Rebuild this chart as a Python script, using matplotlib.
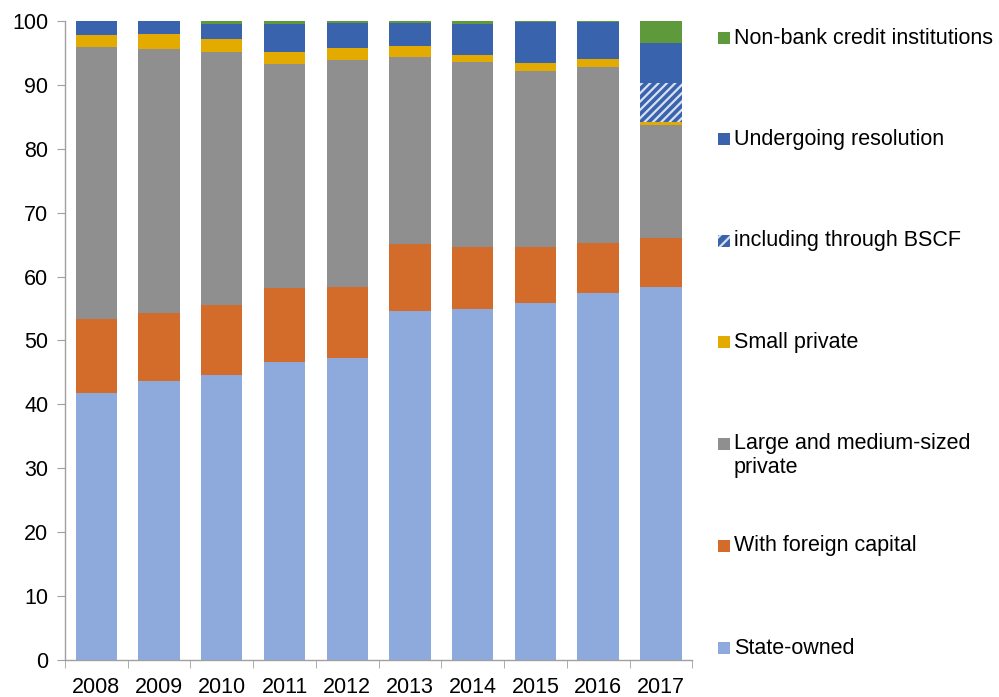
import matplotlib
matplotlib.use("Agg")
import matplotlib.pyplot as plt
from matplotlib.patches import Rectangle
import numpy as np

plt.rcParams['font.family'] = ['Liberation Sans', 'DejaVu Sans']
plt.rcParams['hatch.color'] = '#D8E0F0'
plt.rcParams['hatch.linewidth'] = 1.6

years = ['2008', '2009', '2010', '2011', '2012', '2013', '2014', '2015', '2016', '2017']
state_owned = [41.8, 43.7, 44.6, 46.6, 47.3, 54.6, 54.9, 55.9, 57.4, 58.4]
foreign = [11.6, 10.6, 11.0, 11.6, 11.1, 10.5, 9.7, 8.7, 7.9, 7.7]
large_medium = [42.5, 41.3, 39.5, 35.0, 35.5, 29.3, 29.0, 27.6, 27.5, 17.6]
small_private = [1.9, 2.3, 2.1, 1.9, 1.8, 1.7, 1.1, 1.3, 1.3, 0.5]
bscf = [0, 0, 0, 0, 0, 0, 0, 0, 0, 6.1]
resolution_other = [2.2, 2.1, 2.4, 4.5, 4.0, 3.6, 4.9, 6.3, 5.7, 6.2]
non_bank = [0.0, 0.0, 0.4, 0.4, 0.3, 0.3, 0.4, 0.2, 0.2, 3.5]

labels = ['State-owned', 'With foreign capital', 'Large and medium-sized\nprivate',
          'Small private', 'including through BSCF', 'Undergoing resolution',
          'Non-bank credit institutions']
colors = ['#8EAADC', '#D36C2A', '#8F8F8F', '#E3AA00', '#3A63AD', '#3A63AD', '#5E9A3C']
hatches = [None, None, None, None, '////', None, None]
series = [state_owned, foreign, large_medium, small_private, bscf, resolution_other, non_bank]

fig = plt.figure(figsize=(9.99, 6.97), dpi=100)
ax = fig.add_axes([0.065, 0.0531, 0.628, 0.9168])

x = np.arange(len(years))
bottom = np.zeros(len(years))
for vals, c, h in zip(series, colors, hatches):
    v = np.array(vals)
    ax.bar(x, v, width=0.66, bottom=bottom, color=c, hatch=h,
           edgecolor='#D8E0F0' if h else c, linewidth=0)
    bottom += v

ax.set_xlim(-0.5, len(years) - 0.5)
ax.set_ylim(0, 100)
ax.set_yticks(np.arange(0, 101, 10))
ax.set_xticks(x)
ax.set_xticklabels(years)
ax.set_xticks(np.arange(-0.5, len(years), 1), minor=True)
ax.tick_params(axis='x', which='major', length=0, labelsize=15.5, pad=12)
ax.tick_params(axis='x', which='minor', length=6, color='#A0A0A0', direction='out')
ax.tick_params(axis='y', length=6, color='#A0A0A0', labelsize=15.5, pad=6)
for s in ['top', 'right']:
    ax.spines[s].set_visible(False)
for s in ['left', 'bottom']:
    ax.spines[s].set_color('#A0A0A0')
    ax.spines[s].set_linewidth(1.0)

# Legend (manual, reversed order)
ypos = [648, 546, 444, 342, 241, 139, 38]
for lab, c, h, yp in zip(labels, colors, hatches, ypos):
    yf = 1 - yp / 697
    r = Rectangle((718 / 999, yf - 6 / 697), 12 / 999, 12 / 697, transform=fig.transFigure,
                  facecolor=c, hatch='///' if h else None,
                  edgecolor='#D8E0F0' if h else c, linewidth=0)
    fig.add_artist(r)
    if '\n' in lab:
        first, second = lab.split('\n')
        fig.text(734 / 999, yf, first, fontsize=15.5, va='center', ha='left')
        fig.text(734 / 999, yf - 24 / 697, second, fontsize=15.5, va='center', ha='left')
    else:
        fig.text(734 / 999, yf, lab, fontsize=15.5, va='center', ha='left')

fig.savefig('out.png', dpi=100)
